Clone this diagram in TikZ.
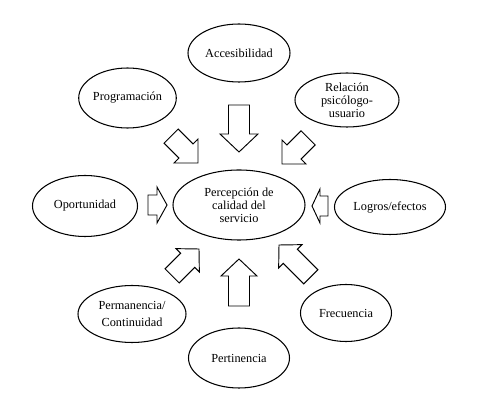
\documentclass[tikz,border=0pt]{standalone}
\usepackage{fontspec}
\setmainfont{Liberation Serif}
\usetikzlibrary{shapes.geometric}
% block arrow: tip, angle, length, shaft width, head width, head length
\newcommand{\blockarr}[6]{%
  \begin{scope}[shift={#1},rotate=#2]
  \draw[line width=0.8pt,line join=miter] (-#3,-#4/2)--(-#6,-#4/2)--(-#6,-#5/2)--(0,0)--(-#6,#5/2)--(-#6,#4/2)--(-#3,#4/2)--cycle;
  \end{scope}}

\begin{document}
\begin{tikzpicture}[x=0.03cm,y=-0.03cm,
  oval/.style 2 args={ellipse,draw,line width=0.9pt,align=center,inner sep=0pt,
    minimum width=#1*0.03cm,minimum height=#2*0.03cm,font=\fontsize{10.5}{11}\selectfont}]
\useasboundingbox (0,0) rectangle (491,400);
\node[oval={102}{58}] (acc) at (239,53) {Accesibilidad};
\node[oval={93}{60}] (prog) at (127.5,98) {Programación};
\node[oval={104}{54}] (rel) at (347,100) {Relación\\psicólogo-\\usuario};
\node[oval={105}{61}] (opo) at (85,206) {Oportunidad};
\node[oval={132}{70}] (cen) at (239,205) {Percepción de\\calidad del\\servicio};
\node[oval={111}{55}] (log) at (390,207) {Logros/efectos};
\node[oval={108}{57}] (perm) at (132,314) {Permanencia/\\[3pt]Continuidad};
\node[oval={101}{60}] (pert) at (239,358) {Pertinencia};
\node[oval={91}{57}] (frec) at (346,313) {Frecuencia};
% arrows towards the centre
\blockarr{(239,152)}{-90}{47}{21}{38}{18}
\blockarr{(239,259)}{90}{47}{21}{36}{17}
\blockarr{(167,205)}{0}{19}{20}{36}{10}
\blockarr{(312,206)}{180}{16}{20}{34}{8}
\blockarr{(198,163)}{-45}{38}{20}{34}{17}
\blockarr{(282,164)}{-135}{37}{20}{34}{17}
\blockarr{(199,249)}{45}{38}{20}{33}{16}
\blockarr{(279,245)}{135}{45}{20}{33}{16}
\end{tikzpicture}
\end{document}
